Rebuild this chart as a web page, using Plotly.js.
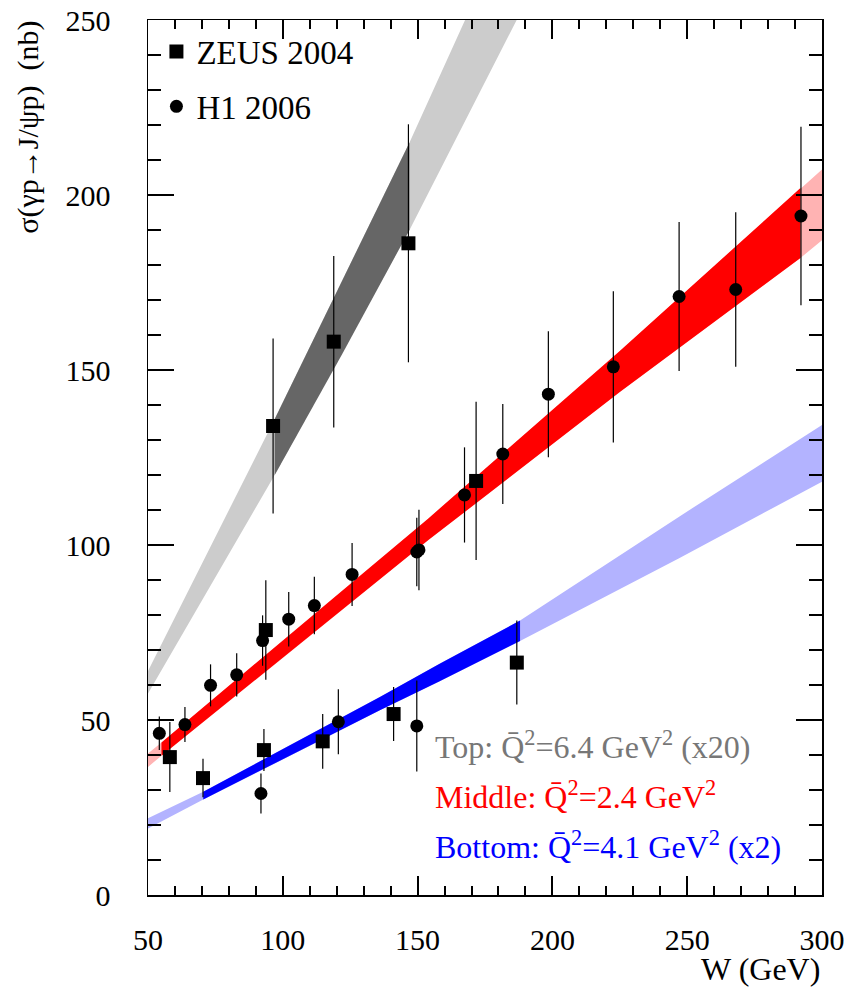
<!DOCTYPE html>
<html><head><meta charset="utf-8">
<script src="https://cdn.plot.ly/plotly-3.0.1.min.js"></script>
<style>html,body{margin:0;padding:0;background:#fff}</style>
</head><body><div id="chart" style="width:850px;height:987px"></div>
<script>
// ZEUS 2004 data points
const zeusW   = [58.1, 70.4, 93.0, 93.7, 96.4, 118.9, 146.6, 114.8, 141.1, 171.7, 186.8];
const zeusSig = [39.4, 33.4, 41.4, 75.7, 134.0, 158.1, 186.2, 43.9, 51.7, 118.3, 66.4];
const zeusErr = [10.0, 5.5, 6.0, 14.2, 25.0, 24.5, 34.0, 7.8, 7.7, 22.6, 12.0];

// H1 2006 data points
const h1W   = [54.2, 63.7, 73.2, 82.9, 92.5, 102.2, 111.7, 125.7, 91.9, 120.6, 149.7, 150.5, 167.4, 181.6, 198.5, 222.6, 247.0, 268.0, 292.2, 149.7];
const h1Sig = [46.2, 48.7, 59.9, 62.9, 72.7, 78.8, 82.7, 91.6, 29.0, 49.5, 98.0, 98.6, 114.3, 126.0, 143.1, 150.9, 171.0, 173.0, 194.0, 48.3];
const h1Err = [4.8, 5.0, 6.0, 6.2, 7.2, 7.8, 8.2, 9.0, 5.7, 9.3, 9.8, 11.5, 13.6, 14.3, 18.0, 21.6, 21.3, 22.1, 25.5, 13.0];

// Top band (x20), grey
const greyW  = [50, 97, 147, 175, 200];
const greyLo = [57.6, 120.0, 190.0, 232.0, 270.0];
const greyHi = [64.0, 136.0, 215.0, 262.0, 305.0];
const greyDarkW  = [97, 122, 147];
const greyDarkLo = [120.0, 154.5, 190.0];
const greyDarkHi = [136.0, 175.5, 215.0];

// Middle band, red
const redW  = [50, 55, 100, 136, 154, 225, 292, 300];
const redLo = [36.6, 39.8, 67.7, 90.2, 101.4, 143.7, 182.0, 187.1];
const redHi = [40.4, 43.6, 72.7, 95.9, 107.6, 155.4, 202.0, 207.3];
const redDarkW  = [55, 100, 136, 154, 225, 292];
const redDarkLo = [39.8, 67.7, 90.2, 101.4, 143.7, 182.0];
const redDarkHi = [43.6, 72.7, 95.9, 107.6, 155.4, 202.0];

// Bottom band (x2), blue
const blueW  = [50, 70.5, 100, 136, 158, 188, 247, 300];
const blueLo = [19.0, 27.3, 38.7, 52.8, 61.0, 72.6, 96.2, 118.1];
const blueHi = [21.9, 29.5, 41.7, 56.6, 66.0, 78.4, 108.1, 134.3];
const blueDarkW  = [70.5, 100, 136, 158, 188];
const blueDarkLo = [27.3, 38.7, 52.8, 61.0, 72.6];
const blueDarkHi = [29.5, 41.7, 56.6, 66.0, 78.4];

const xTickVals = [50, 100, 150, 200, 250, 300];
const yTickVals = [0, 50, 100, 150, 200, 250];

const FONT = '"Liberation Serif", "Times New Roman", serif';

function band(x, lo, hi, color) {
  return [
    {x: x, y: lo, mode: 'lines', line: {width: 0, color: color}, showlegend: false, hoverinfo: 'skip', type: 'scatter'},
    {x: x, y: hi, mode: 'lines', line: {width: 0, color: color}, fill: 'tonexty', fillcolor: color, showlegend: false, hoverinfo: 'skip', type: 'scatter'}
  ];
}

const traces = [].concat(
  band(greyW, greyLo, greyHi, '#cccccc'),
  band(greyDarkW, greyDarkLo, greyDarkHi, '#666666'),
  band(redW, redLo, redHi, '#ffb3b3'),
  band(redDarkW, redDarkLo, redDarkHi, '#ff0000'),
  band(blueW, blueLo, blueHi, '#b3b3ff'),
  band(blueDarkW, blueDarkLo, blueDarkHi, '#0000ff'),
  [
    {x: zeusW, y: zeusSig, type: 'scatter', mode: 'markers', name: 'ZEUS 2004', legendgroup: 'z',
     marker: {symbol: 'square', size: 14, color: 'black'},
     error_y: {type: 'data', array: zeusErr, visible: true, width: 0, thickness: 1.2, color: 'black'}},
    {x: h1W, y: h1Sig, type: 'scatter', mode: 'markers', name: 'H1 2006', legendgroup: 'h',
     marker: {symbol: 'circle', size: 13, color: 'black'},
     error_y: {type: 'data', array: h1Err, visible: true, width: 0, thickness: 1.2, color: 'black'}}
  ]
);

const axisCommon = {
  showline: true, linecolor: 'black', linewidth: 1.5, mirror: 'ticks',
  ticks: 'inside', tickcolor: 'black', tickwidth: 2,
  showgrid: false, zeroline: false, fixedrange: true,
  tickfont: {family: FONT, size: 30, color: 'black'}
};

const layout = {
  width: 850, height: 987,
  margin: {l: 148, r: 28, t: 20, b: 92},
  paper_bgcolor: 'white', plot_bgcolor: 'white',
  font: {family: FONT, color: 'black'},
  showlegend: true,
  legend: {x: 0.0125, y: 0.996, xanchor: 'left', yanchor: 'top', bgcolor: 'rgba(0,0,0,0)',
           font: {family: FONT, size: 33, color: 'black'}, tracegroupgap: 9, traceorder: 'grouped'},
  xaxis: Object.assign({}, axisCommon, {
    range: [50, 300], tickmode: 'array', tickvals: xTickVals, ticktext: xTickVals.map(String),
    ticklen: 19, ticklabelstandoff: 17,
    minor: {dtick: 10, tick0: 50, ticks: 'inside', ticklen: 9, tickwidth: 2, tickcolor: 'black', showgrid: false}
  }),
  yaxis: Object.assign({}, axisCommon, {
    range: [0, 250], tickmode: 'array', tickvals: yTickVals, ticktext: yTickVals.map(String),
    ticklen: 26, ticklabelstandoff: 30,
    minor: {dtick: 10, tick0: 0, ticks: 'inside', ticklen: 13, tickwidth: 2, tickcolor: 'black', showgrid: false}
  }),
  annotations: [
    {xref: 'paper', yref: 'paper', x: -0.178, y: 1.001, xanchor: 'center', yanchor: 'top', textangle: -90,
     showarrow: false, text: 'σ(γp→J/ψp)\u00a0\u00a0(nb)', font: {family: FONT, size: 30, color: 'black'}},
    {xref: 'paper', yref: 'paper', x: 1, y: -0.0845, xanchor: 'right', yanchor: 'middle',
     showarrow: false, text: 'W (GeV)', font: {family: FONT, size: 32, color: 'black'}},
    {xref: 'paper', yref: 'paper', x: 0.4228, y: 0.172, xanchor: 'left', yanchor: 'middle',
     showarrow: false, text: 'Top: Q\u0304<sup>2</sup>=6.4 GeV<sup>2</sup> (x20)', font: {family: FONT, size: 32, color: '#777777'}},
    {xref: 'paper', yref: 'paper', x: 0.4228, y: 0.1145, xanchor: 'left', yanchor: 'middle',
     showarrow: false, text: 'Middle: Q\u0304<sup>2</sup>=2.4 GeV<sup>2</sup>', font: {family: FONT, size: 32, color: '#ff0000'}},
    {xref: 'paper', yref: 'paper', x: 0.4228, y: 0.0575, xanchor: 'left', yanchor: 'middle',
     showarrow: false, text: 'Bottom: Q\u0304<sup>2</sup>=4.1 GeV<sup>2</sup> (x2)', font: {family: FONT, size: 32, color: '#0000ff'}}
  ]
};

Plotly.newPlot('chart', traces, layout, {displayModeBar: false, staticPlot: true});
</script></body></html>
